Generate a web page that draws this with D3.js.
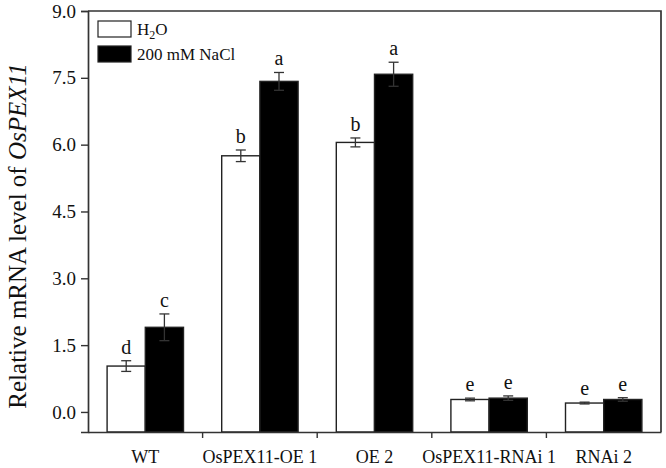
<!DOCTYPE html>
<html>
<head>
<meta charset="utf-8">
<script src="https://cdn.jsdelivr.net/npm/d3@7"></script>
<style>
  body { margin: 0; background: #fff; }
  svg text { font-family: "Liberation Serif", "Times New Roman", serif; fill: #111; }
</style>
</head>
<body>
<svg id="chart" width="666" height="468"></svg>
<script>
const categories = ['WT', 'OsPEX11-OE 1', 'OE 2', 'OsPEX11-RNAi 1', 'RNAi 2'];
const seriesNames = ['H2O', '200 mM NaCl'];
const h2oValues = [1.03, 5.75, 6.05, 0.28, 0.20];
const h2oErrors = [0.12, 0.13, 0.10, 0.03, 0.02];
const naclValues = [1.90, 7.42, 7.58, 0.31, 0.28];
const naclErrors = [0.30, 0.20, 0.27, 0.05, 0.04];
const h2oLetters = ['d', 'b', 'b', 'e', 'e'];
const naclLetters = ['c', 'a', 'a', 'e', 'e'];
const yTicks = [0, 1.5, 3, 4.5, 6, 7.5, 9];

const margin = {top: 11, right: 5, bottom: 36, left: 88};
const width = 666, height = 468;

const svg = d3.select('#chart');

const x = d3.scaleBand().domain(categories).range([margin.left, width - margin.right]);
const inner = d3.scaleBand().domain(seriesNames).range([0, x.bandwidth()]).paddingInner(0).paddingOuter(0.5);
const y = d3.scaleLinear().domain([-0.45, 9]).range([height - margin.bottom, margin.top]);

const rows = categories.map((c, i) => ({
  cat: c,
  bars: [
    {series: seriesNames[0], value: h2oValues[i], err: h2oErrors[i], letter: h2oLetters[i], fill: '#fff'},
    {series: seriesNames[1], value: naclValues[i], err: naclErrors[i], letter: naclLetters[i], fill: '#000'}
  ]
}));

// bars
const groups = svg.append('g').selectAll('g').data(rows).enter().append('g')
  .attr('transform', d => `translate(${x(d.cat)},0)`);

groups.selectAll('rect').data(d => d.bars).enter().append('rect')
  .attr('x', d => inner(d.series))
  .attr('y', d => y(d.value))
  .attr('width', inner.bandwidth())
  .attr('height', d => y.range()[0] - y(d.value))
  .attr('fill', d => d.fill)
  .attr('stroke', '#222')
  .attr('stroke-width', 1.4);

// error bars
const errs = groups.selectAll('g.err').data(d => d.bars).enter().append('g').attr('class', 'err')
  .attr('stroke', '#333')
  .attr('stroke-width', 1.3);
errs.append('line')
  .attr('x1', d => inner(d.series) + inner.bandwidth() / 2)
  .attr('x2', d => inner(d.series) + inner.bandwidth() / 2)
  .attr('y1', d => y(d.value - d.err))
  .attr('y2', d => y(d.value + d.err));
errs.selectAll('line.cap').data(d => [
    {d, v: d.value + d.err}, {d, v: d.value - d.err}
  ]).enter().append('line').attr('class', 'cap')
  .attr('x1', c => inner(c.d.series) + inner.bandwidth() / 2 - 5)
  .attr('x2', c => inner(c.d.series) + inner.bandwidth() / 2 + 5)
  .attr('y1', c => y(c.v))
  .attr('y2', c => y(c.v));

// letters
groups.selectAll('text.letter').data(d => d.bars).enter().append('text')
  .attr('class', 'letter')
  .attr('x', d => inner(d.series) + inner.bandwidth() / 2)
  .attr('y', d => y(d.value + d.err) - 7)
  .attr('text-anchor', 'middle')
  .attr('font-size', 20)
  .text(d => d.letter);

// axes
const yAxis = svg.append('g')
  .attr('transform', `translate(${margin.left},0)`)
  .call(d3.axisLeft(y).tickValues(yTicks).tickFormat(d3.format('.1f')).tickSizeOuter(0).tickSize(7).tickPadding(5));
yAxis.selectAll('text').attr('font-size', 19).attr('font-family', '"Liberation Serif", serif').attr('fill', '#111');

const xAxis = svg.append('g')
  .attr('transform', `translate(0,${y.range()[0]})`)
  .call(d3.axisBottom(x).tickSize(0).tickSizeOuter(0).tickPadding(18));
xAxis.selectAll('text').attr('font-size', 18).attr('font-family', '"Liberation Serif", serif').attr('fill', '#111');

// boundary ticks between groups
svg.append('g').selectAll('line').data(categories.slice(1)).enter().append('line')
  .attr('x1', d => x(d)).attr('x2', d => x(d))
  .attr('y1', y.range()[0]).attr('y2', y.range()[0] + 6)
  .attr('stroke', '#333').attr('stroke-width', 1.4);

svg.selectAll('.domain').attr('stroke', '#333').attr('stroke-width', 1.7);
yAxis.selectAll('.tick line').attr('stroke', '#333').attr('stroke-width', 1.4);

// top and right frame
svg.append('path')
  .attr('d', `M${margin.left},${margin.top}H${width - margin.right}V${y.range()[0]}`)
  .attr('fill', 'none').attr('stroke', '#333').attr('stroke-width', 1.7);

// y title
const title = svg.append('text')
  .attr('transform', 'translate(26,236) rotate(-90)')
  .attr('text-anchor', 'middle')
  .attr('font-size', 25);
title.append('tspan').text('Relative mRNA level of ');
title.append('tspan').attr('font-style', 'italic').text('OsPEX11');

// legend
const legend = svg.append('g').attr('transform', 'translate(98,21)');
const items = legend.selectAll('g').data(seriesNames).enter().append('g')
  .attr('transform', (d, i) => `translate(0,${i * 25})`);
items.append('rect').attr('width', 33).attr('height', 16)
  .attr('fill', (d, i) => i === 0 ? '#fff' : '#000')
  .attr('stroke', '#222').attr('stroke-width', 1.2);
const labels = items.append('text').attr('x', 39).attr('y', 14).attr('font-size', 17);
labels.each(function(d) {
  const t = d3.select(this);
  if (d === 'H2O') {
    t.append('tspan').text('H');
    t.append('tspan').attr('font-size', 12).attr('dy', 4).text('2');
    t.append('tspan').attr('dy', -4).text('O');
  } else {
    t.text(d);
  }
});
</script>
</body>
</html>
